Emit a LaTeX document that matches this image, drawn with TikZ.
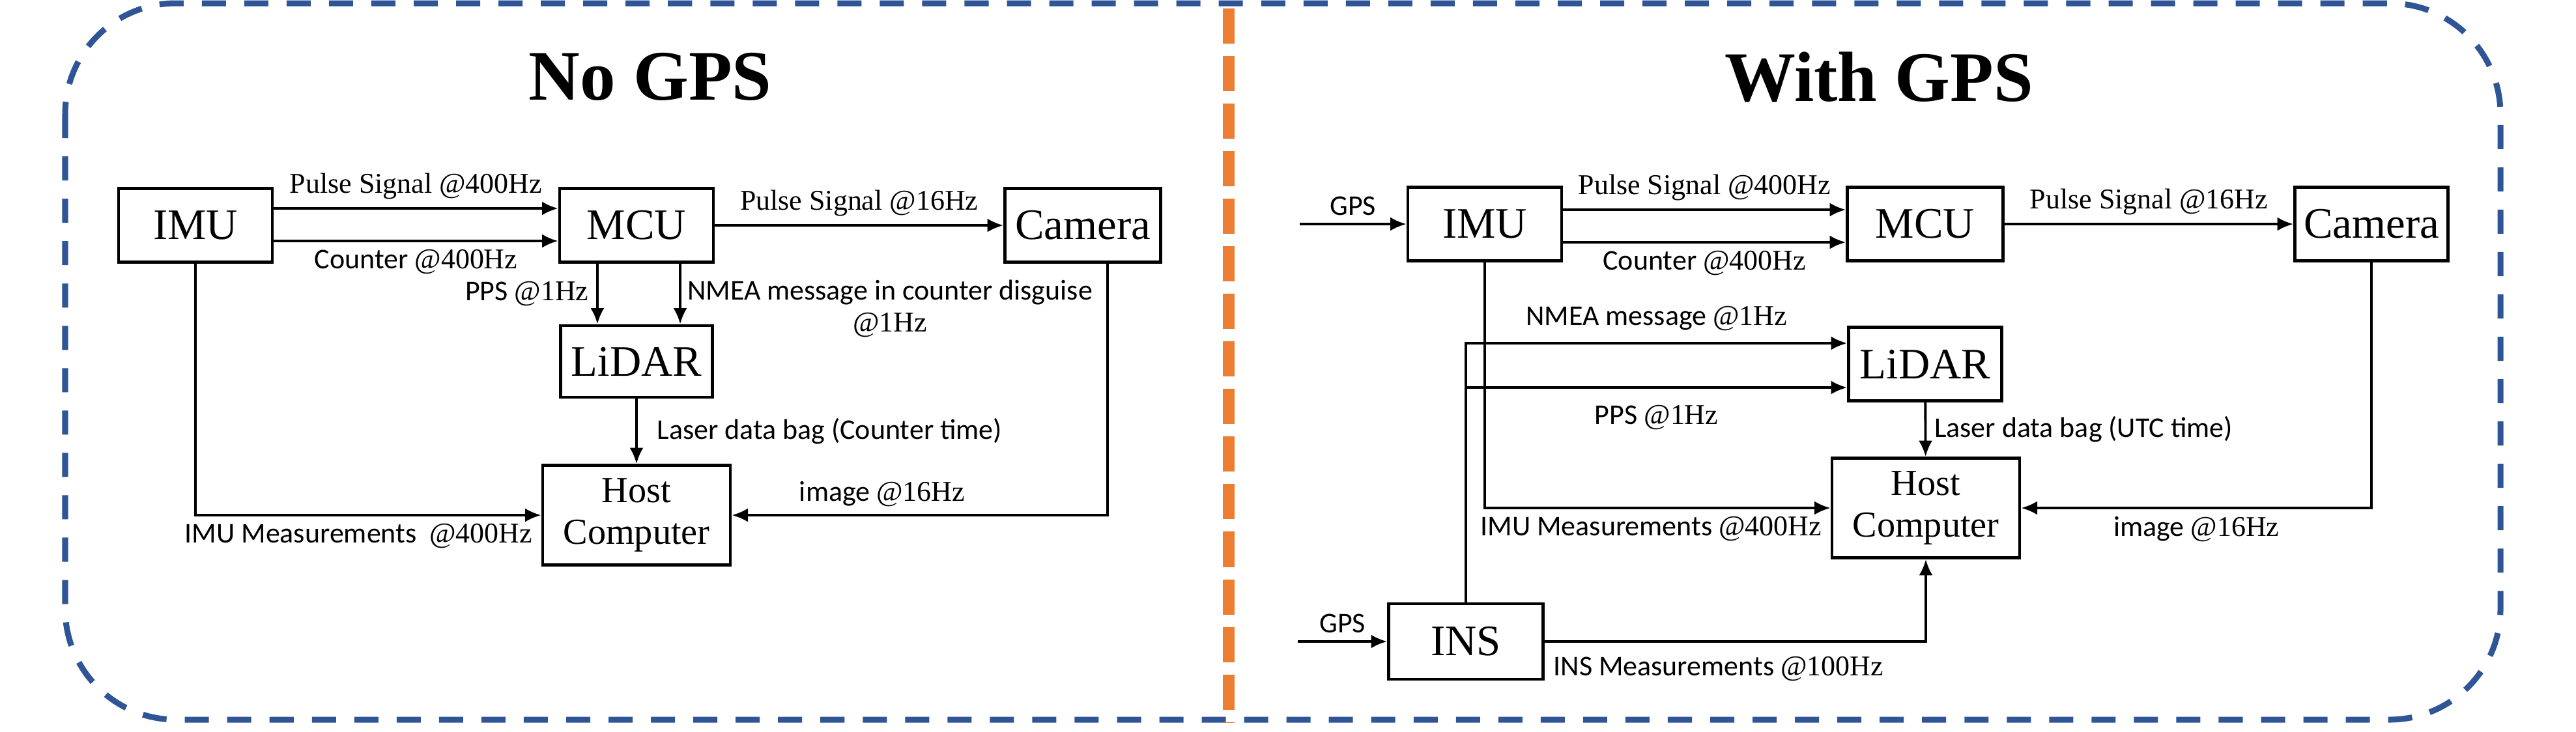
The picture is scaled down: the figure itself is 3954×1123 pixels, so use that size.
\documentclass[tikz,border=0pt]{standalone}
\usepackage{fontspec}
\setmainfont{Liberation Serif}
\setsansfont{Carlito}
\usetikzlibrary{arrows.meta,positioning}
\definecolor{frameblue}{RGB}{47,85,151}
\definecolor{splitorange}{RGB}{237,125,49}
\newcommand{\hzr}[1]{{\rmfamily @#1Hz}}
\tikzset{
  blk/.style={draw,line width=1.3pt,inner sep=0pt,minimum width=2.36cm,minimum height=1.13cm,font=\fontsize{19}{19}\selectfont},
  hostblk/.style={blk,align=center,minimum width=2.88cm,minimum height=1.53cm,font=\fontsize{16}{18}\selectfont},
  lbl/.style={font=\sffamily\fontsize{12.5}{14}\selectfont},
  rlbl/.style={font=\rmfamily\fontsize{12.5}{14}\selectfont},
  ttl/.style={font=\bfseries\fontsize{31}{31}\selectfont},
  wire/.style={line width=1.1pt},
}
\begin{document}
\begin{tikzpicture}[x=0.01cm,y=-0.01cm,>={Latex[length=7pt,width=6pt]}]
  \useasboundingbox (0,0) rectangle (3954,1123);
  % frame and divider
  \draw[frameblue,line width=2.56pt,dash pattern=on 0.37cm off 0.28cm,rounded corners=1.7cm]
    (100,5) rectangle (3838,1105);
  \draw[splitorange,line width=0.18cm,dash pattern=on 0.54cm off 0.19cm] (1886,13) -- (1886,1110);

  \node[ttl] (titleA) at (998,118) {No GPS};
  \node[ttl] (titleB) at (2884,118) {With GPS};

  % no GPS
  \node[blk] (imuA) at (300,346) {IMU};
  \node[blk] (mcuA) at (977,346) {MCU};
  \node[blk,minimum width=2.39cm] (camA) at (1662,346) {Camera};
  \node[blk,minimum width=2.33cm,minimum height=1.1cm] (lidarA) at (977,555) {LiDAR};
  \node[hostblk] (hostA) at (977,791) {Host\\Computer};

  \draw[wire,->] ([yshift=0.26cm]imuA.east) -- ([yshift=0.26cm]mcuA.west)
    node[rlbl,midway,above]{Pulse Signal \hzr{400}};
  \draw[wire,->] ([yshift=-0.24cm]imuA.east) -- ([yshift=-0.24cm]mcuA.west)
    node[lbl,midway,below]{Counter \hzr{400}};
  \draw[wire,->] (mcuA.east) -- (camA.west)
    node[rlbl,midway,above]{Pulse Signal \hzr{16}};
  \draw[wire,->] ([xshift=-0.6cm]mcuA.south) -- ([xshift=-0.6cm]lidarA.north)
    node[lbl,midway,left]{PPS \hzr{1}};
  \draw[wire,->] ([xshift=0.67cm]mcuA.south) -- ([xshift=0.67cm]lidarA.north);
  \node[lbl,align=center] (nmeaA) at (1366,474) {NMEA message in counter disguise\\\hzr{1}};
  \draw[wire,->] (lidarA) -- (hostA)
    node[lbl,midway,right,xshift=0.18cm]{Laser data bag (Counter time)};
  \draw[wire,->] (imuA.south) |- (hostA.west)
    node[lbl,pos=1,below left]{IMU Measurements~ \hzr{400}};
  \draw[wire,->] ([xshift=0.38cm]camA.south) |- (hostA.east)
    node[lbl,pos=0.8,above]{image \hzr{16}};

  % with GPS
  \node[blk] (imuB) at (2279,344) {IMU};
  \node[blk,minimum width=2.39cm] (mcuB) at (2955,344) {MCU};
  \node[blk,minimum width=2.35cm] (camB) at (3640,344) {Camera};
  \node[blk,minimum width=2.35cm] (lidarB) at (2955,559) {LiDAR};
  \node[hostblk] (hostB) at (2956,780) {Host\\Computer};
  \node[blk,minimum width=2.37cm,minimum height=1.16cm] (insB) at (2250,985) {INS};

  \coordinate (gpsImu) at (1995,344);
  \coordinate (gpsIns) at (1992,985);
  \coordinate (nmeaB) at ([yshift=0.32cm]lidarB.west);
  \coordinate (ppsB) at ([yshift=-0.36cm]lidarB.west);

  \draw[wire,->] (gpsImu) -- (imuB.west) node[lbl,midway,above]{GPS};
  \draw[wire,->] ([yshift=0.22cm]imuB.east) -- ([yshift=0.22cm]mcuB.west)
    node[rlbl,midway,above]{Pulse Signal \hzr{400}};
  \draw[wire,->] ([yshift=-0.28cm]imuB.east) -- ([yshift=-0.28cm]mcuB.west)
    node[lbl,midway,below]{Counter \hzr{400}};
  \draw[wire,->] (mcuB.east) -- (camB.west)
    node[rlbl,midway,above]{Pulse Signal \hzr{16}};
  \draw[wire,->] (insB.north) |- (nmeaB)
    node[lbl,pos=0.75,above,yshift=0.05cm]{NMEA message \hzr{1}};
  \draw[wire,->] (ppsB -| insB.north) -- (ppsB)
    node[lbl,midway,below,yshift=-0.14cm]{PPS \hzr{1}};
  \draw[wire,->] (imuB.south) |- (hostB.west)
    node[lbl,pos=1,below left]{IMU Measurements \hzr{400}};
  \draw[wire,->] (lidarB) -- (hostB)
    node[lbl,midway,right]{Laser data bag (UTC time)};
  \draw[wire,->] (camB.south) |- (hostB.east)
    node[lbl,pos=0.75,below]{image \hzr{16}};
  \draw[wire,->] (gpsIns) -- (insB.west) node[lbl,midway,above]{GPS};
  \draw[wire,->] (insB.east) -| (hostB.south)
    node[lbl,pos=0,below right,yshift=-0.1cm]{INS Measurements \hzr{100}};
\end{tikzpicture}
\end{document}
